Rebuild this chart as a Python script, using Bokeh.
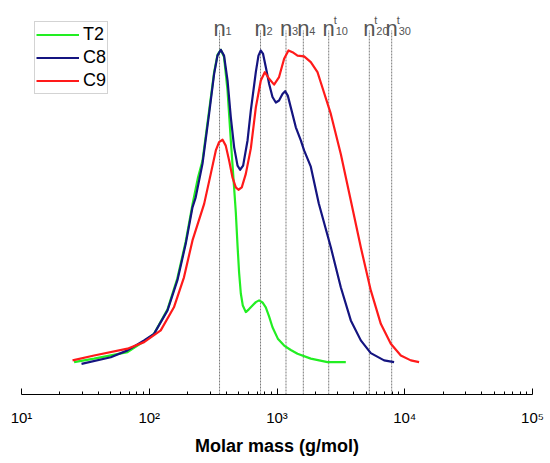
from bokeh.plotting import figure
from bokeh.models import Range1d, FixedTicker, Legend, LegendItem, ColumnDataSource
from bokeh.core.properties import value
from bokeh.embed import file_html
from bokeh.resources import INLINE

# ---- data ----
t2_mass = [25.8, 37.0, 67.6, 91.1, 109, 139, 166, 193, 218, 241, 261, 294, 322, 342, 363, 385,
           410, 435, 462, 476, 491, 505, 521, 540, 570, 602, 643, 683, 724, 770, 817, 868, 922,
           1015, 1137, 1282, 1447, 1839, 2485, 3456]
t2_int = [9.4, 10.4, 12.3, 15.4, 17.6, 24.7, 33.7, 44.4, 55.1, 63.0, 67.8, 82.3, 93.5, 98.5, 100,
          97.9, 88.2, 73.7, 59.8, 52.8, 43.2, 35.4, 29.3, 25.8, 23.9, 24.7, 25.8, 26.8, 27.3,
          26.7, 25.3, 22.6, 19.5, 16.2, 14.2, 12.9, 11.8, 10.4, 9.4, 9.4]

c8_mass = [29.5, 50.0, 67.6, 91.1, 109, 139, 166, 193, 218, 231, 261, 294, 322, 342, 363, 385,
           410, 435, 462, 491, 514, 543, 588, 624, 683, 716, 747, 778, 817, 868, 922, 979, 1038,
           1104, 1157, 1215, 1282, 1404, 1536, 1630, 1839, 2124, 2638, 3158, 3782, 4529, 5423,
           6893, 8254]
c8_int = [8.9, 10.8, 12.8, 15.7, 17.6, 24.4, 33.1, 43.7, 54.3, 57.2, 66.9, 81.4, 93.0, 98.3, 100,
          98.3, 91.1, 80.4, 71.7, 66.4, 65.2, 66.4, 73.7, 82.4, 93.6, 98.3, 99.8, 98.8, 95.0,
          90.1, 86.3, 84.7, 85.3, 87.2, 88.0, 86.7, 83.3, 77.5, 73.7, 70.8, 66.1, 55.4, 42.7,
          31.1, 21.5, 15.7, 12.0, 9.9, 9.4]

c9_mass = [25.1, 37.0, 67.6, 91.1, 123, 156, 187, 218, 269, 303, 332, 352, 375, 397, 422, 448,
           476, 499, 530, 570, 624, 683, 747, 802, 868, 949, 1038, 1137, 1230, 1322, 1447, 1630,
           1839, 2075, 2202, 2638, 3158, 3782, 4529, 5423, 6494, 7778, 9314, 11153, 12950]
c9_int = [9.9, 11.3, 13.3, 15.2, 18.6, 25.3, 34.0, 44.7, 55.3, 64.0, 70.8, 73.2, 73.9, 72.2,
          67.9, 63.0, 60.1, 59.4, 60.1, 64.0, 71.4, 83.3, 91.1, 93.5, 91.6, 89.9, 92.1, 97.4,
          99.8, 99.3, 98.3, 98.1, 96.4, 93.5, 90.5, 81.4, 69.8, 56.3, 42.7, 30.2, 20.5, 14.7,
          11.3, 9.9, 9.4]

series_names = ["T2", "C8", "C9"]
series_colors = ["#22ee22", "#141480", "#ff1a1a"]

marker_mass = [355, 743, 1176, 1607, 2540, 5280, 7900]
marker_sub = ["1", "2", "3", "4", "10", "20", "30"]
marker_sup = ["", "", "", "", "t", "t", "t"]

major_ticks = [10, 100, 1000, 10000, 100000]
major_labels = ["10\u00b9", "10\u00b2", "10\u00b3", "10\u2074", "10\u2075"]
minor_ticks = [m * d for d in [10, 100, 1000, 10000] for m in range(2, 10)]

FONT = "Liberation Sans"

p = figure(width=550, height=463, x_axis_type="log",
           x_range=Range1d(10, 100000), y_range=Range1d(0, 114.3),
           y_axis_location=None, toolbar_location=None, output_backend="svg",
           min_border_left=21, min_border_right=18, min_border_top=0, min_border_bottom=69)
p.outline_line_color = None
p.grid.visible = False
p.background_fill_color = "white"
p.border_fill_color = "white"

ax = p.xaxis[0]
ax.ticker = FixedTicker(ticks=major_ticks, minor_ticks=minor_ticks)
ax.major_label_overrides = {t: l for t, l in zip(major_ticks, major_labels)}
ax.major_tick_in = 6
ax.major_tick_out = 0
ax.minor_tick_in = 3
ax.minor_tick_out = 0
ax.axis_line_color = "black"
ax.major_tick_line_color = "black"
ax.minor_tick_line_color = "black"
ax.major_label_text_font = FONT
ax.major_label_text_font_size = "15px"
ax.major_label_text_color = "black"
ax.major_label_standoff = 14
ax.axis_label = "Molar mass (g/mol)"
ax.axis_label_text_font = FONT
ax.axis_label_text_font_size = "18px"
ax.axis_label_text_font_style = "bold"
ax.axis_label_text_color = "black"
ax.axis_label_standoff = 7

# vertical dotted marker lines
top = [105.6] * len(marker_mass)
bot = [0] * len(marker_mass)
p.segment(x0=marker_mass, y0=bot, x1=marker_mass, y1=top,
          line_color="#7a7a7a", line_width=1, line_dash="2 1")

lab_y = [106.2] * len(marker_mass)
p.text(x=marker_mass, y=lab_y, text=["n"] * len(marker_mass),
       text_font=value(FONT), text_font_size="22px", text_color="#555555",
       text_align="center", text_baseline="alphabetic")
src_sub = ColumnDataSource(dict(x=marker_mass, y=lab_y, t=marker_sub,
                                xo=[6 if s == "" else 7 for s in marker_sup]))
p.text(x="x", y="y", text="t", source=src_sub, x_offset="xo", y_offset=3,
       text_font=value(FONT), text_font_size="11px", text_color="#555555",
       text_align="left", text_baseline="alphabetic")
p.text(x=marker_mass, y=lab_y, text=marker_sup, x_offset=5, y_offset=-8,
       text_font=value(FONT), text_font_size="11px", text_color="#555555",
       text_align="left", text_baseline="alphabetic")

renderers = []
for xs, ys, c in [(t2_mass, t2_int, series_colors[0]),
                  (c8_mass, c8_int, series_colors[1]),
                  (c9_mass, c9_int, series_colors[2])]:
    r = p.line(xs, ys, line_color=c, line_width=2.2, line_join="round")
    renderers.append(r)

legend = Legend(items=[LegendItem(label=n, renderers=[r]) for n, r in zip(series_names, renderers)],
                location=(13, 300))
legend.label_text_font = FONT
legend.label_text_font_size = "18px"
legend.label_text_color = "black"
legend.glyph_width = 43
legend.glyph_height = 23
legend.label_height = 23
legend.label_standoff = 4
legend.spacing = 0
legend.padding = 1
legend.margin = 0
legend.border_line_color = "#a8a8a8"
legend.border_line_width = 1
legend.background_fill_alpha = 1
p.add_layout(legend, "center")

open("out.html", "w").write(file_html(p, INLINE))
